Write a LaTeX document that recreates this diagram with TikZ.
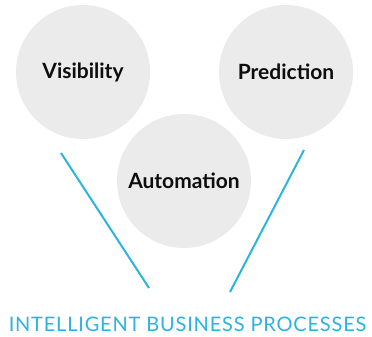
\documentclass[tikz,border=0pt]{standalone}
\usepackage{fontspec}
\usepackage{xcolor}
\usepackage{tikz}
\setmainfont{Lato}
\definecolor{bubblegray}{HTML}{EBEBEC}
\definecolor{ibpcyan}{HTML}{2BB4DF}

\begin{document}
\begin{tikzpicture}[x=1pt, y=-1pt,
    bubble/.style={circle, fill=bubblegray, minimum size=134pt, inner sep=0pt,
                   text=black!95, font=\fontsize{21}{21}\selectfont\bfseries},
    vline/.style={ibpcyan, line width=2pt}]
                \useasboundingbox (0,0) rectangle (372,337);

                % Three bubbles
                \node[bubble] (vis) at (83,72) {Visibility};
                \node[bubble] (pred) at (286,72) {Prediction};
                \node[bubble] (auto) at (184,181) {Automation};

                % Ends of the V lines
                \coordinate (vlefttop) at (61,153);
                \coordinate (vleftbot) at (149,288);
                \coordinate (vrighttop) at (304,150);
                \coordinate (vrightbot) at (230,292);
                \draw[vline] (vlefttop) -- (vleftbot);
                \draw[vline] (vrighttop) -- (vrightbot);

                % Caption
                \node[text=ibpcyan, font=\fontsize{20}{20}\selectfont\addfontfeature{LetterSpace=4}] (ibp) at (187.5,324.5) {INTELLIGENT BUSINESS PROCESSES};
            \end{tikzpicture}
\end{document}
